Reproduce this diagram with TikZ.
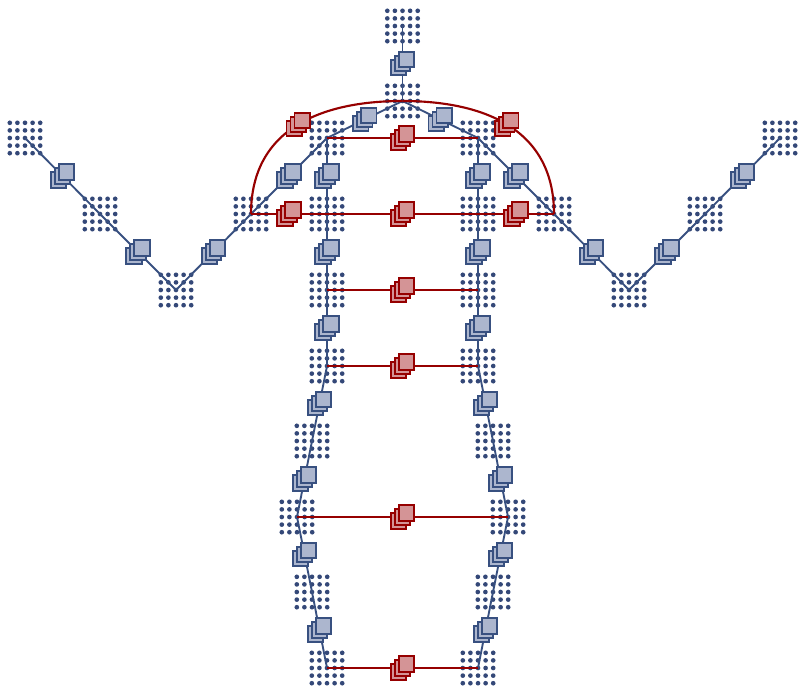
\documentclass[tikz,border=0pt]{standalone}
\usetikzlibrary{calc}
\definecolor{dotblue}{RGB}{52,72,120}
\definecolor{lineblue}{RGB}{56,80,128}
\definecolor{fillblue}{RGB}{172,182,206}
\definecolor{linered}{RGB}{150,0,0}
\definecolor{fillred}{RGB}{212,148,150}
\tikzset{
dotgrid/.style={
  inner sep=0pt,
  minimum size=28pt,
  path picture={
    \foreach \i in {-2,...,2}
      \foreach \j in {-2,...,2}
        \fill[dotblue] ([shift={(\i*5.7pt,\j*5.7pt)}]path picture bounding box.center) circle (1.75pt);
    },
  }
}
\tikzset{
bluestack/.style={
  inner sep=0pt,
  minimum size=22pt,
  path picture={
    \foreach \k in {-3pt,0pt,3pt}
      \filldraw[draw=lineblue, fill=fillblue, line width=1.4pt]
        ([shift={(\k,\k)}]path picture bounding box.center) ++(-5.8pt,-5.8pt) rectangle ++(11.6pt,11.6pt);
    },
  },
redstack/.style={
  inner sep=0pt,
  minimum size=22pt,
  path picture={
    \foreach \k in {-3pt,0pt,3pt}
      \filldraw[draw=linered, fill=fillred, line width=1.4pt]
        ([shift={(\k,\k)}]path picture bounding box.center) ++(-5.8pt,-5.8pt) rectangle ++(11.6pt,11.6pt);
    },
  }
}
\tikzset{
bluelink/.style={
  line width=1.4pt,
  draw=lineblue,
  },
redlink/.style={
  line width=1.6pt,
  draw=linered,
  }
}

\begin{document}
\begin{tikzpicture}[x=0.75pt,y=-0.75pt]
    \useasboundingbox (0,0) rectangle (798,689);

    % top part
    \node[dotgrid] (t0) at (402.5,26) {};
    \node[dotgrid] (t1) at (402.5,101) {};

    % left arm
    \node[dotgrid] (l1) at (25,138) {};
    \node[dotgrid] (l2) at (100,214) {};
    \node[dotgrid] (l3) at (176,290) {};
    \node[dotgrid] (l4) at (251,214) {};

    % right arm
    \node[dotgrid] (r1) at (780,138) {};
    \node[dotgrid] (r2) at (705,214) {};
    \node[dotgrid] (r3) at (629,290) {};
    \node[dotgrid] (r4) at (554,214) {};

    % left column
    \node[dotgrid] (a1) at (327,138) {};
    \node[dotgrid] (a2) at (327,214) {};
    \node[dotgrid] (a3) at (327,290) {};
    \node[dotgrid] (a4) at (327,366) {};
    \node[dotgrid] (a5) at (312,441) {};
    \node[dotgrid] (a6) at (297,517) {};
    \node[dotgrid] (a7) at (312,592) {};
    \node[dotgrid] (a8) at (327,668) {};

    % right column
    \node[dotgrid] (b1) at (478,138) {};
    \node[dotgrid] (b2) at (478,214) {};
    \node[dotgrid] (b3) at (478,290) {};
    \node[dotgrid] (b4) at (478,366) {};
    \node[dotgrid] (b5) at (493,441) {};
    \node[dotgrid] (b6) at (508,517) {};
    \node[dotgrid] (b7) at (493,592) {};
    \node[dotgrid] (b8) at (478,668) {};

    % blue edges
    \draw[bluelink] (t0.center) -- node[bluestack] (e_t) {} (t1.center);
    \draw[bluelink] (t1.center) -- node[bluestack] (e_ta) {} (a1.center);
    \draw[bluelink] (t1.center) -- node[bluestack] (e_tb) {} (b1.center);
    \draw[bluelink] (l1.center) -- node[bluestack] (e_l1) {} (l2.center);
    \draw[bluelink] (l2.center) -- node[bluestack] (e_l2) {} (l3.center);
    \draw[bluelink] (l3.center) -- node[bluestack] (e_l3) {} (l4.center);
    \draw[bluelink] (l4.center) -- node[bluestack] (e_l4) {} (a1.center);
    \draw[bluelink] (r1.center) -- node[bluestack] (e_r1) {} (r2.center);
    \draw[bluelink] (r2.center) -- node[bluestack] (e_r2) {} (r3.center);
    \draw[bluelink] (r3.center) -- node[bluestack] (e_r3) {} (r4.center);
    \draw[bluelink] (r4.center) -- node[bluestack] (e_r4) {} (b1.center);
    \draw[bluelink] (a1.center) -- node[bluestack] (e_a1) {} (a2.center);
    \draw[bluelink] (a2.center) -- node[bluestack] (e_a2) {} (a3.center);
    \draw[bluelink] (a3.center) -- node[bluestack] (e_a3) {} (a4.center);
    \draw[bluelink] (a4.center) -- node[bluestack] (e_a4) {} (a5.center);
    \draw[bluelink] (a5.center) -- node[bluestack] (e_a5) {} (a6.center);
    \draw[bluelink] (a6.center) -- node[bluestack] (e_a6) {} (a7.center);
    \draw[bluelink] (a7.center) -- node[bluestack] (e_a7) {} (a8.center);
    \draw[bluelink] (b1.center) -- node[bluestack] (e_b1) {} (b2.center);
    \draw[bluelink] (b2.center) -- node[bluestack] (e_b2) {} (b3.center);
    \draw[bluelink] (b3.center) -- node[bluestack] (e_b3) {} (b4.center);
    \draw[bluelink] (b4.center) -- node[bluestack] (e_b4) {} (b5.center);
    \draw[bluelink] (b5.center) -- node[bluestack] (e_b5) {} (b6.center);
    \draw[bluelink] (b6.center) -- node[bluestack] (e_b6) {} (b7.center);
    \draw[bluelink] (b7.center) -- node[bluestack] (e_b7) {} (b8.center);

    % red edges
    \draw[redlink] (a1.center) -- node[redstack] (x_1) {} (b1.center);
    \draw[redlink] (l4.center) -- node[redstack] (x_2l) {} (a2.center);
    \draw[redlink] (a2.center) -- node[redstack] (x_2) {} (b2.center);
    \draw[redlink] (b2.center) -- node[redstack] (x_2r) {} (r4.center);
    \draw[redlink] (a3.center) -- node[redstack] (x_3) {} (b3.center);
    \draw[redlink] (a4.center) -- node[redstack] (x_4) {} (b4.center);
    \draw[redlink] (a6.center) -- node[redstack] (x_6) {} (b6.center);
    \draw[redlink] (a8.center) -- node[redstack] (x_8) {} (b8.center);

    % red arcs
    \draw[redlink] (l4.center) to[out=90, in=180, out looseness=1.2, in looseness=1.03] node[redstack] (x_arcl) {} (t1.center);
    \draw[redlink] (t1.center) to[out=0, in=90, out looseness=1.03, in looseness=1.2] node[redstack] (x_arcr) {} (r4.center);
\end{tikzpicture}
\end{document}
